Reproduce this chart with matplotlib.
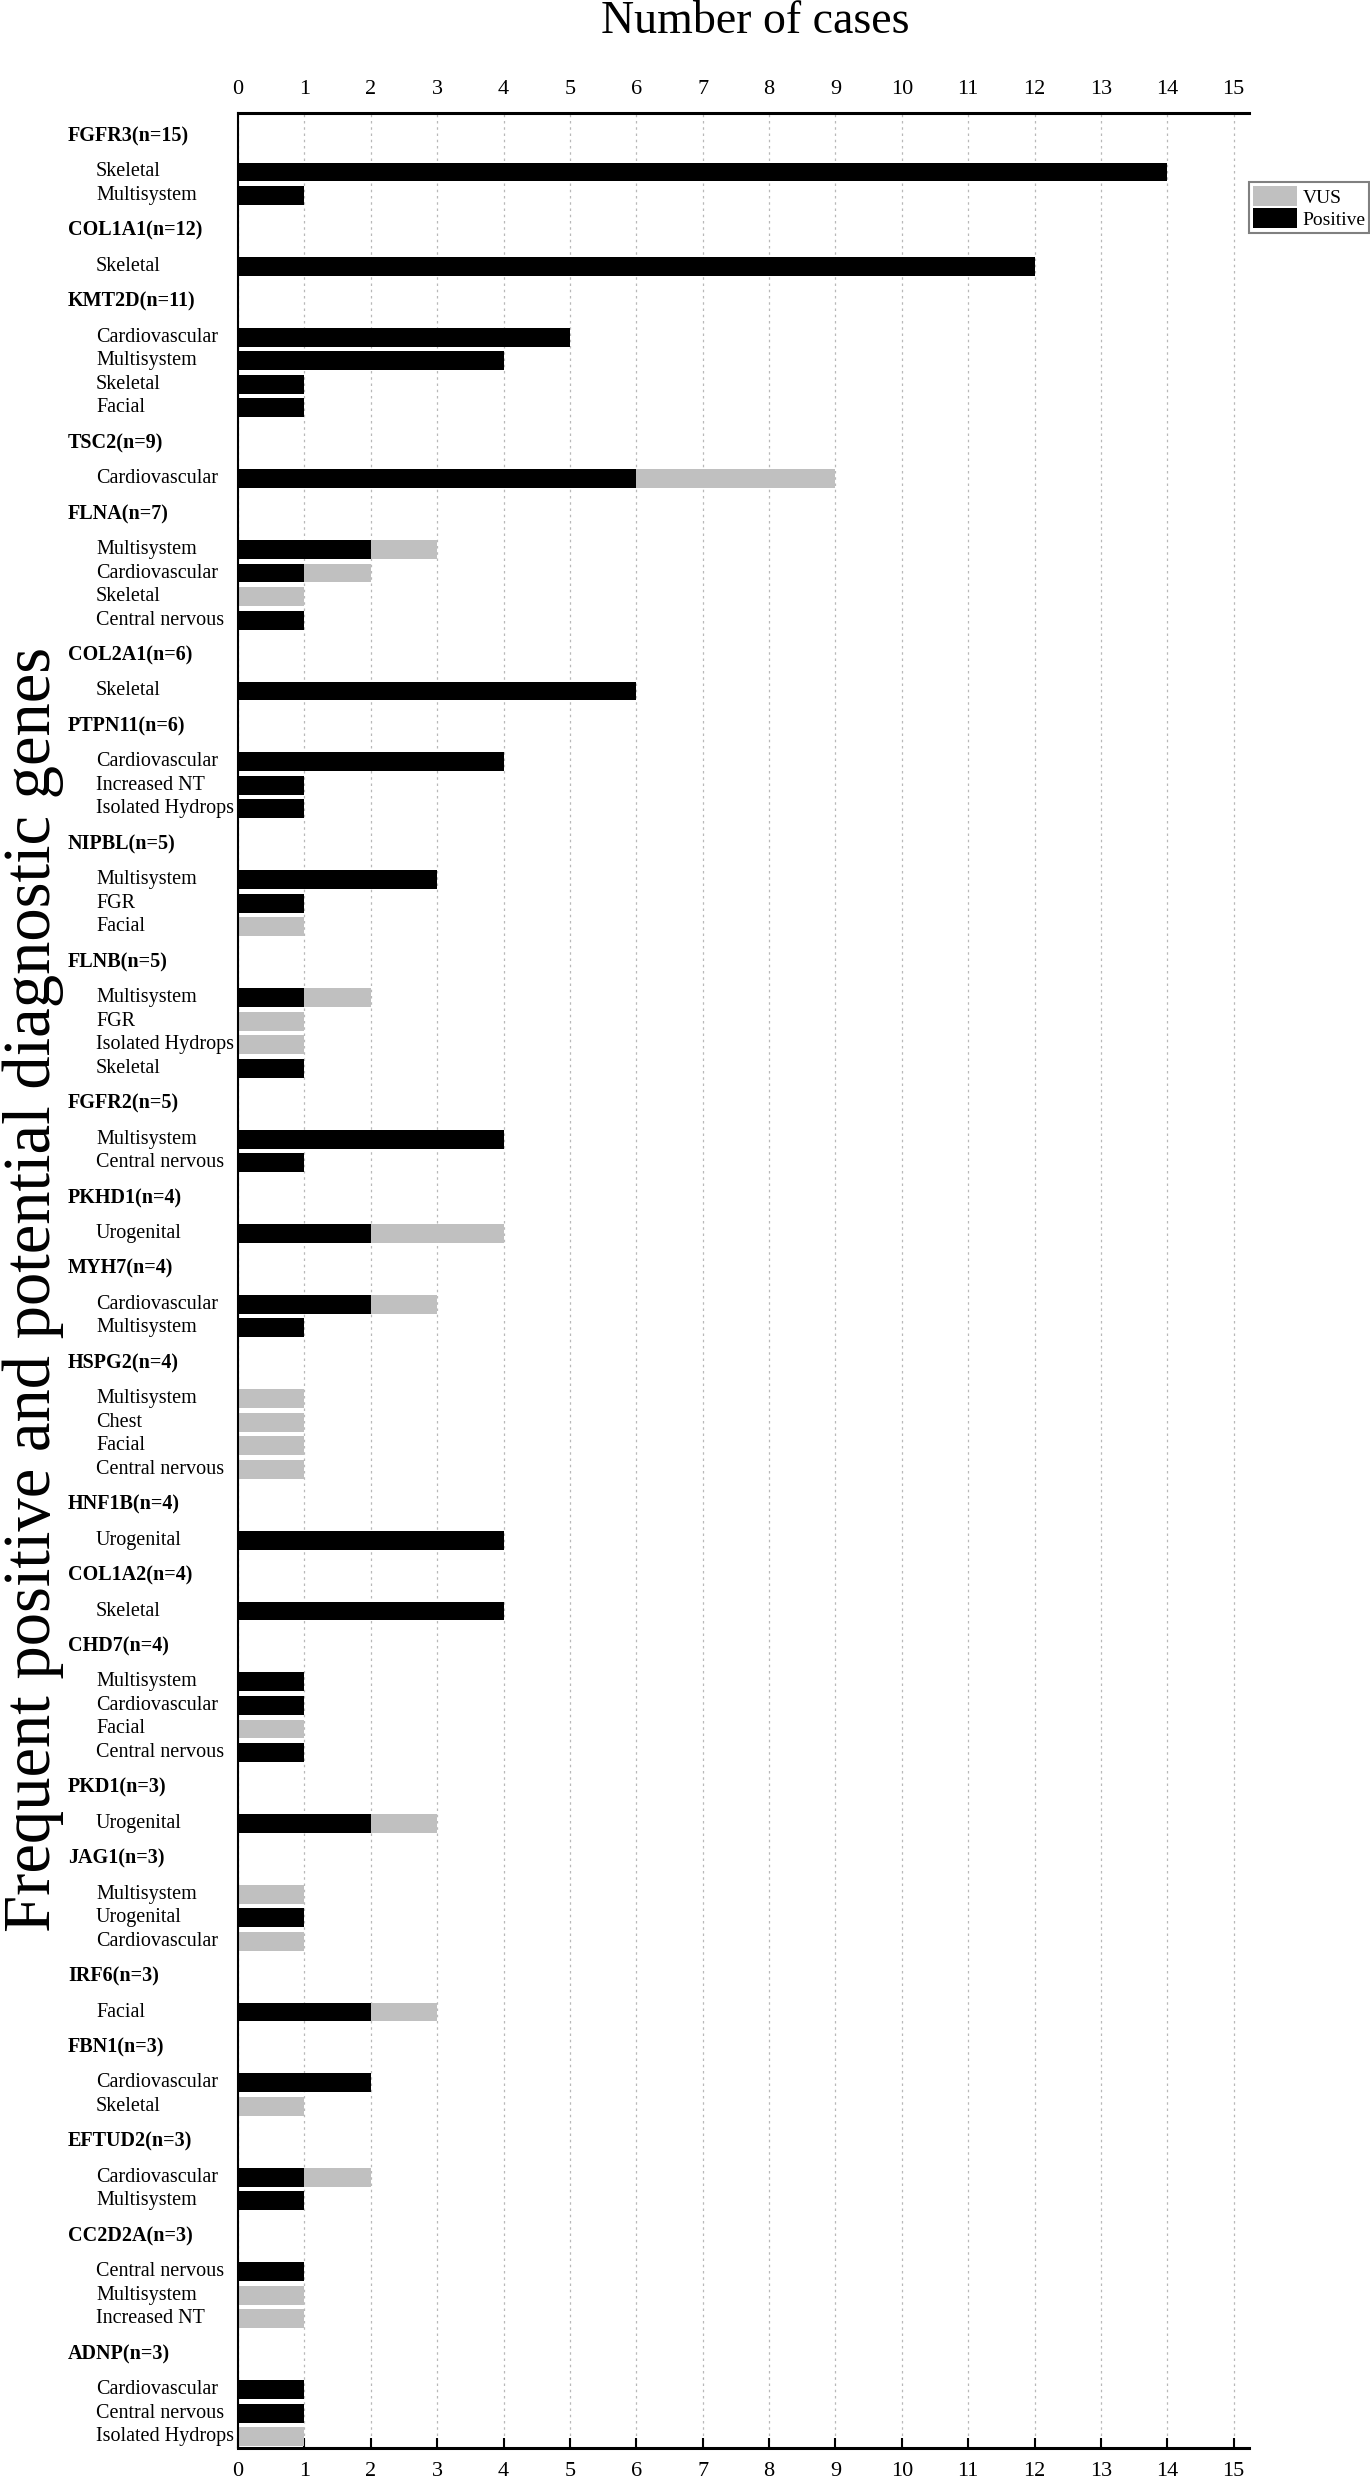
import matplotlib
matplotlib.use("Agg")
import matplotlib.pyplot as plt
import matplotlib.transforms as mtransforms

plt.rcParams['font.family'] = ['Liberation Serif', 'DejaVu Serif']

# genes and their case counts
genes = ['FGFR3', 'COL1A1', 'KMT2D', 'TSC2', 'FLNA', 'COL2A1', 'PTPN11', 'NIPBL',
         'FLNB', 'FGFR2', 'PKHD1', 'MYH7', 'HSPG2', 'HNF1B', 'COL1A2', 'CHD7',
         'PKD1', 'JAG1', 'IRF6', 'FBN1', 'EFTUD2', 'CC2D2A', 'ADNP']
gene_n = [15, 12, 11, 9, 7, 6, 6, 5, 5, 5, 4, 4, 4, 4, 4, 4, 3, 3, 3, 3, 3, 3, 3]

# phenotype rows per gene
categories = [
    ['Skeletal', 'Multisystem'],
    ['Skeletal'],
    ['Cardiovascular', 'Multisystem', 'Skeletal', 'Facial'],
    ['Cardiovascular'],
    ['Multisystem', 'Cardiovascular', 'Skeletal', 'Central nervous'],
    ['Skeletal'],
    ['Cardiovascular', 'Increased NT', 'Isolated Hydrops'],
    ['Multisystem', 'FGR', 'Facial'],
    ['Multisystem', 'FGR', 'Isolated Hydrops', 'Skeletal'],
    ['Multisystem', 'Central nervous'],
    ['Urogenital'],
    ['Cardiovascular', 'Multisystem'],
    ['Multisystem', 'Chest', 'Facial', 'Central nervous'],
    ['Urogenital'],
    ['Skeletal'],
    ['Multisystem', 'Cardiovascular', 'Facial', 'Central nervous'],
    ['Urogenital'],
    ['Multisystem', 'Urogenital', 'Cardiovascular'],
    ['Facial'],
    ['Cardiovascular', 'Skeletal'],
    ['Cardiovascular', 'Multisystem'],
    ['Central nervous', 'Multisystem', 'Increased NT'],
    ['Cardiovascular', 'Central nervous', 'Isolated Hydrops'],
]
positive = [
    [14, 1], [12], [5, 4, 1, 1], [6], [2, 1, 0, 1], [6], [4, 1, 1], [3, 1, 0],
    [1, 0, 0, 1], [4, 1], [2], [2, 1], [0, 0, 0, 0], [4], [4], [1, 1, 0, 1],
    [2], [0, 1, 0], [2], [2, 0], [1, 1], [1, 0, 0], [1, 1, 0],
]
vus = [
    [0, 0], [0], [0, 0, 0, 0], [3], [1, 1, 1, 0], [0], [0, 0, 0], [0, 0, 1],
    [1, 1, 1, 0], [0, 0], [2], [1, 0], [1, 1, 1, 1], [0], [0], [0, 0, 1, 0],
    [1], [1, 0, 1], [1], [0, 1], [1, 0], [0, 1, 1], [0, 0, 1],
]

# work out row positions (header, then its rows)
header_y = []
row_y, row_lab, row_pos, row_vus = [], [], [], []
p = 0.0
for g in range(len(genes)):
    header_y.append(p)
    p += 1.5
    for c, a, b in zip(categories[g], positive[g], vus[g]):
        row_y.append(p)
        row_lab.append(c)
        row_pos.append(a)
        row_vus.append(b)
        p += 1
    p += 0.5

fig = plt.figure(figsize=(13.7, 24.8), dpi=100)
ax = fig.add_axes([238 / 1370, 1 - 2448 / 2480, (1249 - 238) / 1370, (2448 - 113) / 2480])

b_pos = ax.barh(row_y, row_pos, height=0.8, color='black', label='Positive', zorder=2)
b_vus = ax.barh(row_y, row_vus, left=row_pos, height=0.8, color='#c0c0c0', label='VUS', zorder=2)

ax.set_xlim(0, 15.23)
ax.set_ylim(row_y[-1] + 0.48, -1.0)
ax.set_xticks(range(16))
ax.set_yticks([])
ax.xaxis.grid(True, linestyle=(0, (2, 3)), color='#b8b8b8', linewidth=0.9)
ax.set_axisbelow(True)
ax.tick_params(axis='x', direction='in', length=7, width=1.5, labelsize=16,
               top=False, labeltop=True, bottom=True, labelbottom=True, pad=10)

ax.spines['right'].set_visible(False)
ax.spines['top'].set_linewidth(2.2)
ax.spines['bottom'].set_linewidth(2.2)
ax.spines['left'].set_linewidth(1.5)

trans = mtransforms.blended_transform_factory(fig.transFigure, ax.transData)
for g in range(len(genes)):
    ax.text(68 / 1370, header_y[g], '%s(n=%d)' % (genes[g], gene_n[g]), transform=trans,
            fontsize=14.5, fontweight='bold', ha='left', va='center')
for y, lab in zip(row_y, row_lab):
    ax.text(96 / 1370, y, lab, transform=trans, fontsize=14.5, ha='left', va='center')

leg = ax.legend([b_vus, b_pos], ['VUS', 'Positive'], loc='upper left',
                bbox_to_anchor=(1.0, 0.9704), borderaxespad=0, fontsize=14,
                handlelength=2.25, handleheight=1.2, labelspacing=0.1,
                handletextpad=0.3, borderpad=0.2, fancybox=False, framealpha=1)
leg.get_frame().set_edgecolor('#808080')
leg.get_frame().set_linewidth(1.5)

fig.text(0.551, 1 - 33 / 2480, 'Number of cases', fontsize=33, ha='center', va='baseline')
fig.text(0.002, 0.48, 'Frequent positive and potential diagnostic genes', fontsize=48,
         rotation=90, ha='left', va='center')

fig.savefig('out.png', dpi=100)
